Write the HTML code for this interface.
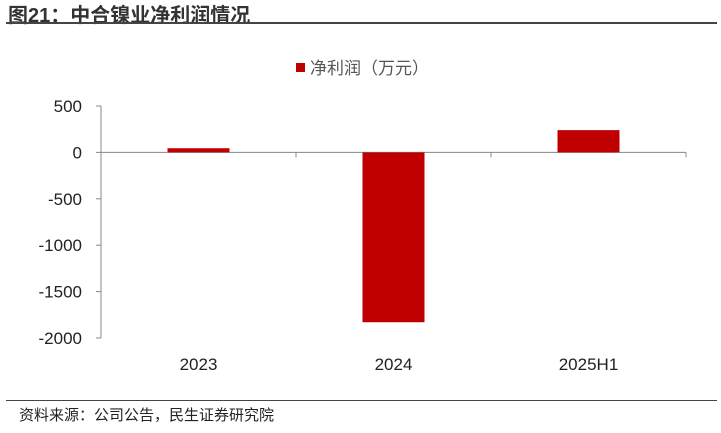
<!DOCTYPE html>
<html><head><meta charset="utf-8"><style>
body{margin:0;width:721px;height:433px;background:#fff;font-family:"Liberation Sans","Noto Sans CJK SC",sans-serif;overflow:hidden;position:relative}
.t{position:absolute;left:8px;top:-1px;font-size:20px;font-weight:bold;color:#333}
.l1{position:absolute;left:6px;top:22px;width:711px;height:2px;background:#444}
.l2{position:absolute;left:6px;top:400px;width:711px;height:1px;background:#444}
.f{position:absolute;left:19px;top:404px;font-size:15px;color:#222}
</style></head><body>
<div class="t">图21：中合镍业净利润情况</div>
<div class="l1"></div>
<svg width="721" height="433" style="position:absolute;left:0;top:0" id="c"></svg>
<div class="l2"></div>
<div class="f">资料来源：公司公告，民生证券研究院</div>
<script>
const categories=["2023","2024","2025H1"];
const values=[45,-1830,240];
const ticks=[500,0,-500,-1000,-1500,-2000];
const ns="http://www.w3.org/2000/svg",svg=document.getElementById('c');
const x0=101,x1=686,yT=106,yB=338;
const y=v=>yT+(500-v)/2500*(yB-yT);
const bw=(x1-x0)/categories.length;
function mk(t,a,txt){const e=document.createElementNS(ns,t);for(const k in a)e.setAttribute(k,a[k]);if(txt!=null)e.textContent=txt;svg.appendChild(e);return e;}
let e;
e=mk('line',{x1:x0,y1:yT,x2:x0,y2:yB,stroke:'#888'});


ticks.forEach(t=>{
 e=mk('line',{x1:x0-5,y1:y(t),x2:x0,y2:y(t),stroke:'#888'});
 
 
 e=mk('text',{x:x0-19,y:y(t)+6,'text-anchor':'end','font-size':17,fill:'#222'},t);
 
 
});
e=mk('line',{x1:x0,y1:y(0),x2:x1,y2:y(0),stroke:'#888'});


for(let i=0;i<=categories.length;i++){
 e=mk('line',{x1:x0+i*bw,y1:y(0),x2:x0+i*bw,y2:y(0)+5,stroke:'#888'});
 
 
}
categories.forEach((c,i)=>{
 const cx=x0+(i+0.5)*bw,v=values[i];
 e=mk('rect',{x:cx-31,y:Math.min(y(v),y(0)),width:62,height:Math.abs(y(v)-y(0)),fill:'#c00000'});
 
 
 e=mk('text',{x:cx,y:370,'text-anchor':'middle','font-size':17,fill:'#222'},c);
 
 
});
e=mk('rect',{x:296,y:63,width:9,height:9,fill:'#c00000'});


e=mk('text',{x:310,y:74,'font-size':17,fill:'#555'},'净利润（万元）');


</script>
</body></html>
